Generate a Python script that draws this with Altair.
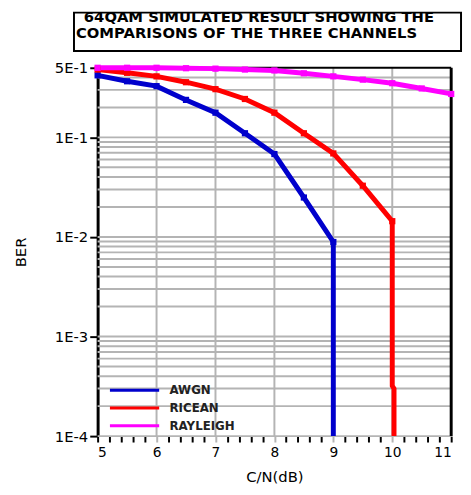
import altair as alt
import pandas as pd

title_lines = ["64QAM SIMULATED RESULT SHOWING THE", "COMPARISONS OF THE THREE CHANNELS"]
channels = ["AWGN", "RICEAN", "RAYLEIGH"]
colors = ["#0000cc", "#ff0000", "#ff00ff"]

awgn_snr = [5, 5.5, 6, 6.5, 7, 7.5, 8, 8.5, 9, 9]
awgn_ber = [0.42, 0.366, 0.327, 0.238, 0.177, 0.110, 0.068, 0.0249, 0.0089, 0.0001]

rician_snr = [5, 5.5, 6, 6.5, 7, 7.5, 8, 8.5, 9, 9.5, 10, 10, 10.03, 10.03]
rician_ber = [0.48, 0.445, 0.41, 0.358, 0.305, 0.243, 0.177, 0.110, 0.069, 0.0327, 0.0144, 0.00032, 0.0003, 0.0001]

rayleigh_snr = [5, 5.5, 6, 6.5, 7, 7.5, 8, 8.5, 9, 9.5, 10, 10.5, 11]
rayleigh_ber = [0.50, 0.50, 0.50, 0.495, 0.49, 0.48, 0.47, 0.44, 0.41, 0.38, 0.35, 0.31, 0.273]

x_ticks = [round(5 + 0.2 * i, 1) for i in range(31)]
x_grid = [6, 7, 8, 9, 10]
y_major = [0.5, 0.1, 0.01, 0.001, 0.0001]
y_major_labels = ["5E-1", "1E-1", "1E-2", "1E-3", "1E-4"]
y_grid = [m * 10.0 ** e for e in (-4, -3, -2) for m in range(1, 10)] + [0.1, 0.2, 0.3, 0.4]

rows = []
for name, xs_, ys_ in zip(channels, [awgn_snr, rician_snr, rayleigh_snr], [awgn_ber, rician_ber, rayleigh_ber]):
    for i, (a, b) in enumerate(zip(xs_, ys_)):
        rows.append({"channel": name, "snr": a, "ber": b, "i": i})
df = pd.DataFrame(rows)

FONT = "DejaVu Sans"
GRID = "#b4b4b4"

xs = alt.Scale(domain=[5, 11], nice=False, zero=False)
ys = alt.Scale(type="log", domain=[0.0001, 0.5], nice=False)

label_expr = ""
for v, t in zip(y_major, y_major_labels):
    label_expr += f"abs(datum.value / {v} - 1) < 0.01 ? '{t}' : "
label_expr += "''"

x_axis = alt.Axis(
    values=x_ticks,
    labelExpr="datum.value % 1 == 0 ? format(datum.value, 'd') : ''",
    title="C/N(dB)", grid=False, domain=False,
    tickColor={"condition": {"test": "datum.value % 1 == 0 && datum.value > 5 && datum.value < 11", "value": GRID}, "value": "black"},
    tickSize=6, tickWidth=2,
    labelFont=FONT, labelFontSize=14, labelColor="black", labelPadding=4,
    titleFont=FONT, titleFontSize=15, titleFontWeight="normal", titleColor="black", titlePadding=10,
)
y_axis = alt.Axis(
    values=y_major, labelExpr=label_expr, title="BER", grid=False,
    domainColor="black", domainWidth=3, tickColor="black", tickWidth=2, tickSize=8,
    labelFont=FONT, labelFontSize=15, labelColor="black", labelPadding=2,
    titleFont=FONT, titleFontSize=15, titleFontWeight="normal", titleColor="black", titlePadding=26,
)

hgrid = alt.Chart(pd.DataFrame({"g": y_grid})).mark_rule(color=GRID, strokeWidth=2).encode(
    y=alt.Y("g:Q", scale=ys, axis=y_axis)
)
vgrid = alt.Chart(pd.DataFrame({"g": x_grid})).mark_rule(color=GRID, strokeWidth=2).encode(
    x=alt.X("g:Q", scale=xs, axis=x_axis)
)
top_frame = alt.Chart(pd.DataFrame({"g": [0.5]})).mark_rule(color="black", strokeWidth=2).encode(
    y=alt.Y("g:Q", scale=ys, axis=y_axis)
)
right_frame = alt.Chart(pd.DataFrame({"g": [11]})).mark_rule(color="black", strokeWidth=3).encode(
    x=alt.X("g:Q", scale=xs, axis=x_axis)
)

color = alt.Color(
    "channel:N",
    scale=alt.Scale(domain=channels, range=colors),
    legend=alt.Legend(
        orient="none", legendX=31, legendY=321, title=None,
        symbolType="M-5,0H5", symbolSize=100, symbolStrokeWidth=3,
        symbolFillColor="transparent",
        labelFont=FONT, labelFontSize=12, labelFontWeight="bold", labelColor="#222222",
        labelOffset=29, rowPadding=5, padding=0,
    ),
)

lines = alt.Chart(df).mark_line(strokeWidth=5, clip=False).encode(
    x=alt.X("snr:Q", scale=xs, axis=x_axis),
    y=alt.Y("ber:Q", scale=ys, axis=y_axis),
    color=color,
    order=alt.Order("i:Q"),
)
points = alt.Chart(df).transform_filter("datum.ber > 0.0005").mark_point(
    shape="square", size=40, filled=True, opacity=1
).encode(
    x=alt.X("snr:Q", scale=xs, axis=x_axis),
    y=alt.Y("ber:Q", scale=ys, axis=y_axis),
    color=alt.Color("channel:N", scale=alt.Scale(domain=channels, range=colors), legend=None),
)

box = alt.Chart(pd.DataFrame({"a": [0]})).mark_rect(fill="transparent", stroke="black", strokeWidth=2).encode(
    x=alt.value(-24), x2=alt.value(369), y=alt.value(-56), y2=alt.value(-17)
)
t1 = alt.Chart(pd.DataFrame({"t": [title_lines[0]]})).mark_text(
    align="left", baseline="alphabetic", font=FONT, fontSize=15, fontWeight="bold", color="black"
).encode(text="t:N", x=alt.value(-14), y=alt.value(-46))
t2 = alt.Chart(pd.DataFrame({"t": [title_lines[1]]})).mark_text(
    align="left", baseline="alphabetic", font=FONT, fontSize=15, fontWeight="bold", color="black"
).encode(text="t:N", x=alt.value(-22), y=alt.value(-30))

chart = alt.layer(hgrid, vgrid, top_frame, right_frame, lines, points, box, t1, t2).properties(
    width=359, height=374,
    autosize=alt.AutoSizeParams(type="none"),
    padding={"left": 91, "top": 57, "right": 12, "bottom": 50},
).configure_view(stroke=None)

chart.save("out.html", embed_options={"renderer": "svg", "actions": False})
